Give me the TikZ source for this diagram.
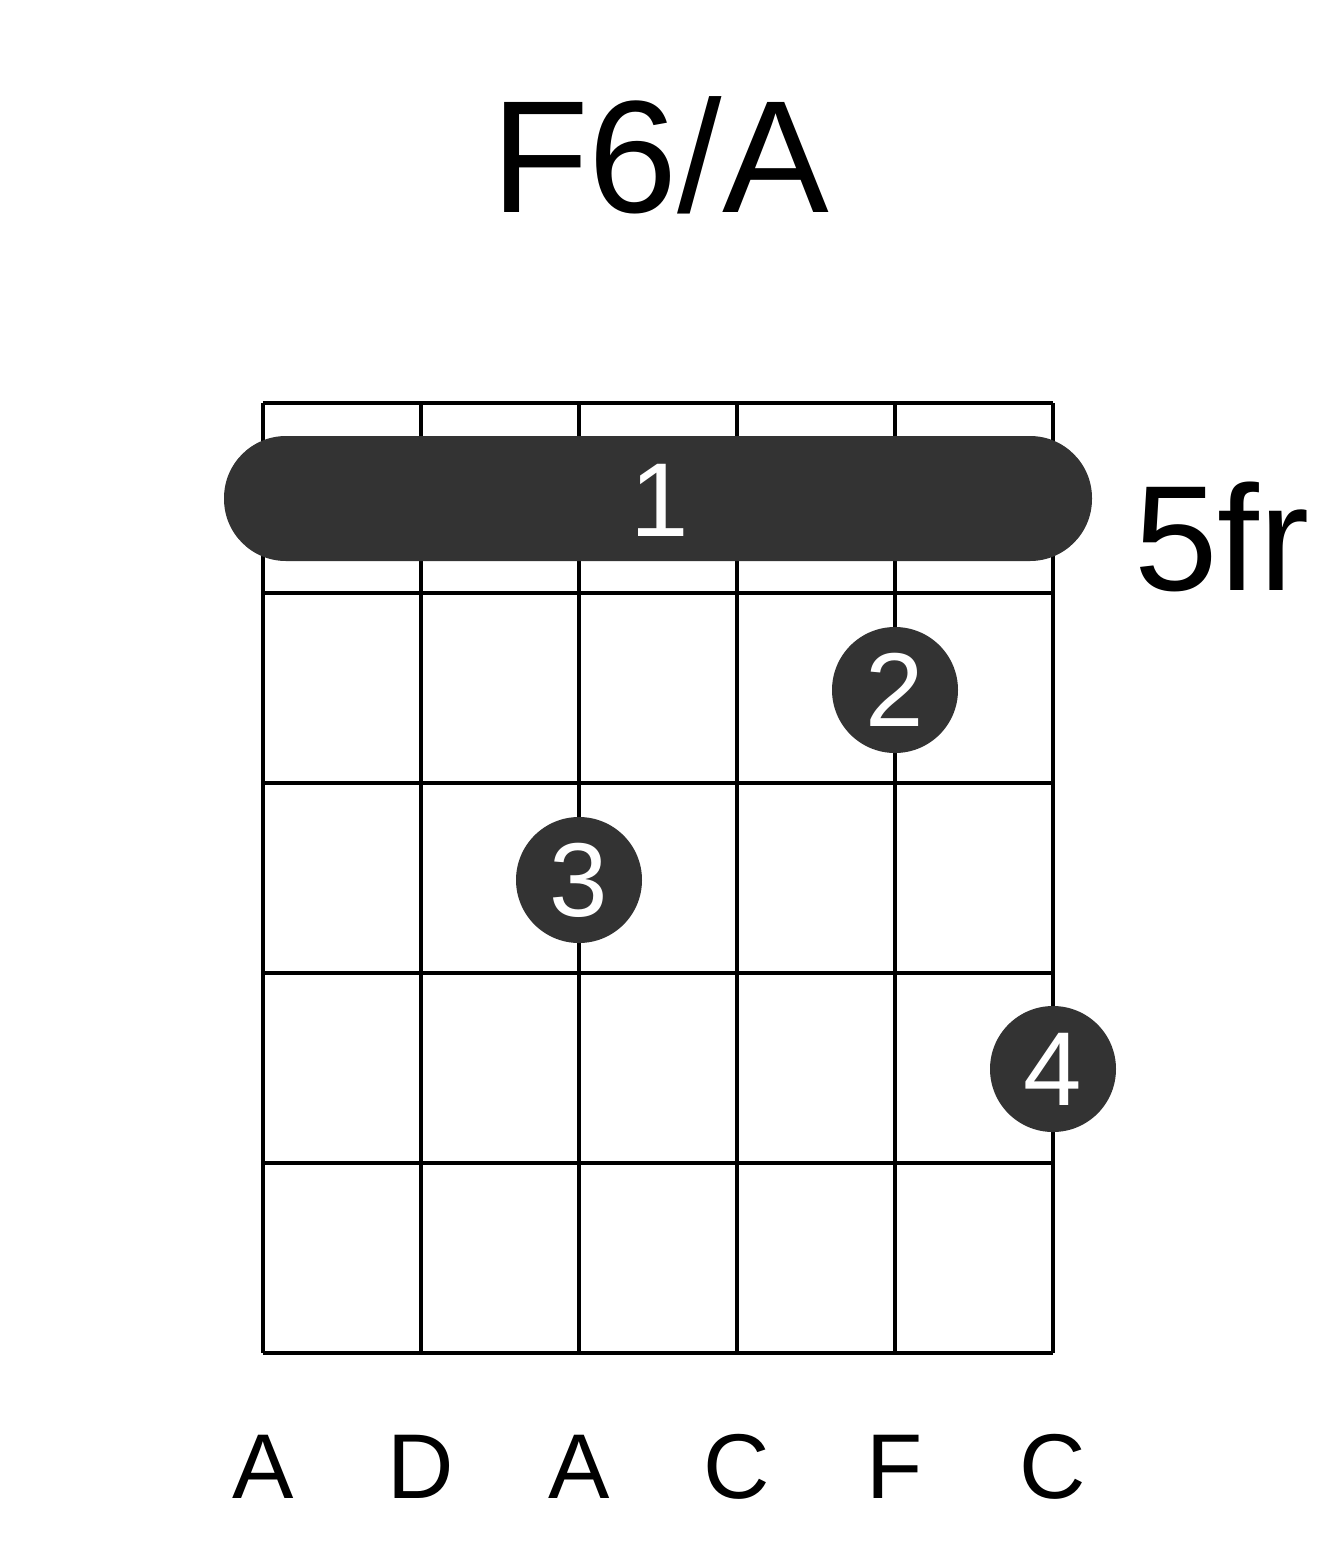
\documentclass[tikz,border=0pt]{standalone}
\usepackage{fontspec}
\setmainfont{Liberation Sans}
\definecolor{dk}{HTML}{333333}
\begin{document}
\begin{tikzpicture}[x=1pt,y=-1pt,
  grid/.style={line width=4pt,black},
  dot/.style={circle,fill=dk,minimum size=126pt,inner sep=0pt,text=white,font=\fontsize{105}{105}\selectfont},
  lab/.style={font=\fontsize{92}{92}\selectfont}]
\useasboundingbox (0,0) rectangle (1317,1551);
\foreach \x in {263,421,579,737,895,1053} \draw[grid] (\x,403) -- (\x,1353);
\foreach \y in {403,593,783,973,1163,1353} \draw[grid] (263,\y) -- (1053,\y);
\fill[dk,rounded corners=62pt] (224,436) rectangle (1092,561);
\node[text=white,font=\fontsize{105}{105}\selectfont] (f1) at (660,500) {1};
\node[dot] (f2) at (895,690) {2};
\node[dot] (f3) at (579,880) {3};
\node[dot] (f4) at (1053,1069) {4};
\node[font=\fontsize{160}{160}\selectfont] (t) at (660,155) {F6/A};
\node[font=\fontsize{150}{150}\selectfont] (fr) at (1222,537) {5fr};
\foreach \x/\s [count=\i] in {263/A,421/D,579/A,737/C,895/F,1053/C}
  \node[lab] (s\i) at (\x,1467) {\s};
\end{tikzpicture}
\end{document}
